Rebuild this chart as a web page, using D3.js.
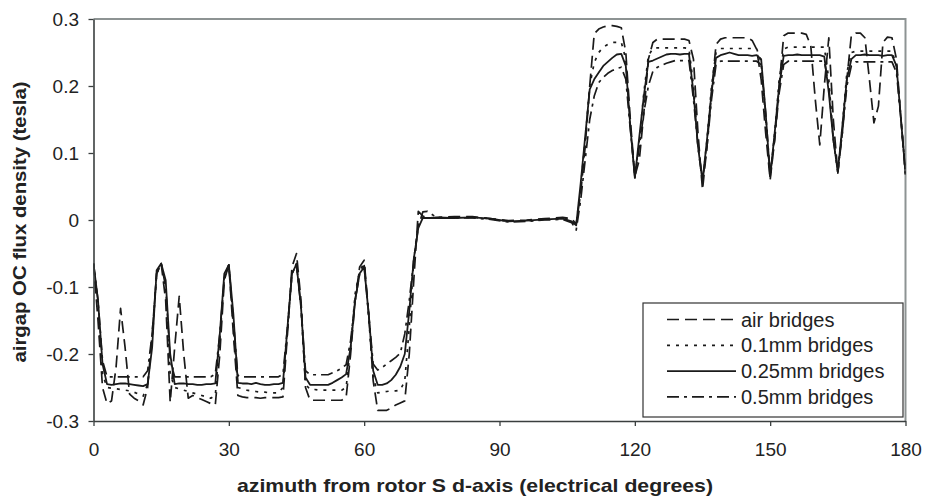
<!DOCTYPE html>
<html>
<head>
<meta charset="utf-8">
<script src="https://cdn.jsdelivr.net/npm/d3@7"></script>
<style>
  body { margin: 0; background: #fff; }
  svg { display: block; font-family: "Liberation Sans", Arial, sans-serif; }
</style>
</head>
<body>
<svg id="drawing_region"></svg>
<script>
// azimuth grid (electrical degrees), shared by all series
const azimuth = [
  0,1,2,3,4,5,6,7,8,9, 10,11,12,13,14,15,16,17,18,19,
  20,21,22,23,24,25,26,27,28,29, 30,31,32,33,34,35,36,37,38,39,
  40,41,42,43,44,45,46,47,48,49, 50,51,52,53,54,55,56,57,58,59,
  60,61,62,63,64,65,66,67,68,69, 70,71,72,73,74,
  76,80,84,88,92,96,100,104,106,
  107,108,109,
  110,111,112,113,114,115,116,117,118,119, 120,121,122,123,124,125,126,127,128,129,
  130,131,132,133,134,135,136,137,138,139, 140,141,142,143,144,145,146,147,148,149,
  150,151,152,153,154,155,156,157,158,159, 160,161,162,163,164,165,166,167,168,169,
  170,171,172,173,174,175,176,177,178,179, 180
];

// air bridges (long dash)
const airBridges = [
  -0.065,-0.15,-0.25,-0.274,-0.27,-0.22,-0.132,-0.19,-0.26,-0.266,
  -0.27,-0.276,-0.25,-0.17,-0.08,-0.065,-0.12,-0.272,-0.19,-0.114,
  -0.2,-0.266,-0.262,-0.265,-0.268,-0.271,-0.274,-0.276,-0.2,-0.09,
  -0.067,-0.17,-0.262,-0.264,-0.265,-0.265,-0.265,-0.266,-0.265,-0.265,
  -0.265,-0.265,-0.264,-0.17,-0.07,-0.05,-0.12,-0.25,-0.269,-0.269,
  -0.269,-0.269,-0.269,-0.269,-0.269,-0.269,-0.265,-0.2,-0.12,-0.07,
  -0.06,-0.14,-0.24,-0.284,-0.284,-0.284,-0.281,-0.276,-0.273,-0.27,
  -0.2,-0.09,0.013,0.006,0.003,
  0.004,0.005,0.005,0.002,-0.001,0.0,0.002,0.004,0.002,
  -0.006,0.04,0.11,
  0.2,0.278,0.285,0.288,0.29,0.29,0.289,0.287,0.25,0.15,
  0.065,0.09,0.16,0.24,0.265,0.27,0.27,0.27,0.27,0.27,
  0.27,0.27,0.268,0.24,0.13,0.045,0.11,0.19,0.262,0.27,
  0.272,0.272,0.272,0.272,0.272,0.272,0.268,0.255,0.21,0.13,
  0.06,0.12,0.2,0.275,0.279,0.279,0.279,0.279,0.277,0.26,
  0.18,0.112,0.2,0.272,0.15,0.07,0.13,0.21,0.276,0.279,
  0.279,0.272,0.21,0.145,0.17,0.265,0.273,0.272,0.24,0.15,
  0.068
];

// 0.1mm bridges (dotted)
const bridges01 = [
  -0.065,-0.13,-0.23,-0.25,-0.251,-0.252,-0.253,-0.254,-0.255,-0.257,
  -0.26,-0.263,-0.245,-0.18,-0.08,-0.065,-0.1,-0.23,-0.25,-0.252,
  -0.254,-0.256,-0.258,-0.26,-0.262,-0.264,-0.266,-0.262,-0.18,-0.085,
  -0.067,-0.16,-0.25,-0.252,-0.254,-0.255,-0.256,-0.257,-0.257,-0.258,
  -0.258,-0.258,-0.25,-0.165,-0.08,-0.065,-0.13,-0.245,-0.253,-0.253,
  -0.254,-0.254,-0.254,-0.254,-0.254,-0.254,-0.25,-0.19,-0.11,-0.075,
  -0.065,-0.145,-0.235,-0.258,-0.257,-0.256,-0.255,-0.255,-0.254,-0.24,
  -0.16,-0.06,-0.005,0.004,0.003,
  0.003,0.004,0.004,0.002,-0.002,-0.001,0.001,0.003,-0.001,
  -0.008,0.05,0.12,
  0.2,0.235,0.25,0.258,0.262,0.265,0.265,0.265,0.24,0.14,
  0.063,0.12,0.19,0.245,0.256,0.257,0.257,0.257,0.257,0.257,
  0.257,0.257,0.256,0.2,0.11,0.055,0.12,0.2,0.25,0.256,
  0.256,0.256,0.256,0.256,0.256,0.256,0.256,0.256,0.235,0.15,
  0.063,0.13,0.21,0.255,0.258,0.258,0.258,0.258,0.258,0.258,
  0.258,0.258,0.258,0.21,0.12,0.07,0.14,0.22,0.25,0.252,
  0.252,0.252,0.252,0.252,0.252,0.252,0.252,0.252,0.23,0.15,
  0.068
];

// 0.25mm bridges (solid)
const bridges025 = [
  -0.065,-0.12,-0.215,-0.245,-0.246,-0.245,-0.244,-0.244,-0.245,-0.246,
  -0.247,-0.248,-0.245,-0.19,-0.075,-0.065,-0.09,-0.2,-0.245,-0.244,
  -0.244,-0.245,-0.245,-0.246,-0.246,-0.245,-0.245,-0.244,-0.17,-0.08,
  -0.067,-0.14,-0.243,-0.244,-0.244,-0.245,-0.243,-0.245,-0.246,-0.246,
  -0.245,-0.245,-0.243,-0.16,-0.08,-0.066,-0.13,-0.235,-0.246,-0.246,
  -0.246,-0.246,-0.246,-0.243,-0.239,-0.235,-0.23,-0.19,-0.12,-0.08,
  -0.07,-0.14,-0.225,-0.246,-0.246,-0.244,-0.239,-0.231,-0.219,-0.2,
  -0.136,-0.058,-0.012,0.003,0.003,
  0.003,0.003,0.004,0.002,-0.002,-0.001,0.001,0.002,-0.002,
  -0.008,0.055,0.125,
  0.195,0.21,0.22,0.23,0.236,0.242,0.247,0.248,0.23,0.14,
  0.063,0.125,0.185,0.236,0.238,0.241,0.244,0.247,0.248,0.248,
  0.247,0.248,0.248,0.19,0.11,0.058,0.12,0.19,0.242,0.246,
  0.248,0.25,0.248,0.246,0.246,0.246,0.245,0.246,0.24,0.16,
  0.065,0.13,0.2,0.245,0.246,0.246,0.247,0.246,0.246,0.246,
  0.246,0.246,0.244,0.19,0.12,0.072,0.14,0.21,0.24,0.246,
  0.246,0.247,0.246,0.246,0.246,0.245,0.246,0.246,0.23,0.15,
  0.07
];

// 0.5mm bridges (dash-dot)
const bridges05 = [
  -0.065,-0.12,-0.21,-0.234,-0.234,-0.234,-0.234,-0.234,-0.234,-0.234,
  -0.234,-0.234,-0.225,-0.17,-0.08,-0.065,-0.1,-0.21,-0.234,-0.234,
  -0.234,-0.234,-0.234,-0.234,-0.234,-0.234,-0.234,-0.23,-0.17,-0.085,
  -0.067,-0.15,-0.232,-0.234,-0.234,-0.234,-0.234,-0.234,-0.234,-0.234,
  -0.234,-0.234,-0.23,-0.16,-0.08,-0.066,-0.13,-0.225,-0.231,-0.231,
  -0.231,-0.231,-0.231,-0.228,-0.225,-0.221,-0.216,-0.18,-0.12,-0.08,
  -0.068,-0.14,-0.215,-0.224,-0.22,-0.215,-0.21,-0.205,-0.199,-0.17,
  -0.12,-0.06,-0.01,0.012,0.013,
  0.004,0.003,0.003,0.001,-0.003,-0.002,0.0,0.001,-0.004,
  -0.015,0.03,0.09,
  0.15,0.185,0.205,0.213,0.219,0.223,0.226,0.228,0.21,0.135,
  0.065,0.11,0.16,0.2,0.222,0.228,0.231,0.234,0.236,0.238,
  0.238,0.238,0.238,0.18,0.11,0.06,0.11,0.18,0.232,0.237,
  0.237,0.237,0.237,0.237,0.237,0.237,0.237,0.237,0.232,0.16,
  0.068,0.12,0.19,0.232,0.237,0.237,0.237,0.237,0.237,0.237,
  0.237,0.237,0.237,0.2,0.12,0.075,0.13,0.2,0.23,0.236,
  0.236,0.236,0.236,0.236,0.236,0.236,0.236,0.236,0.22,0.15,
  0.07
];

const seriesNames = ['air bridges', '0.1mm bridges', '0.25mm bridges', '0.5mm bridges'];
const xTicks = [0, 30, 60, 90, 120, 150, 180];
const yTicks = [0.3, 0.2, 0.1, 0, -0.1, -0.2, -0.3];
const yTickLabels = ['0.3', '0.2', '0.1', '0', '-0.1', '-0.2', '-0.3'];

class LineChart {

    constructor( config, series ) {
        this.config = config;
        this.series = series;
        this.init();
    }

    init() {
        let self = this;

        self.svg = d3.select( self.config.parent )
            .attr('width', self.config.width)
            .attr('height', self.config.height);

        self.inner_width = self.config.width - self.config.margin.left - self.config.margin.right;
        self.inner_height = self.config.height - self.config.margin.top - self.config.margin.bottom;

        self.chart = self.svg.append('g')
            .attr('transform', `translate(${self.config.margin.left}, ${self.config.margin.top})`);

        self.xscale = d3.scaleLinear()
            .domain([0, 180])
            .range([0, self.inner_width]);

        self.yscale = d3.scaleLinear()
            .domain([-0.3, 0.3])
            .range([self.inner_height, 0]);

        self.xaxis = d3.axisBottom( self.xscale )
            .tickValues( xTicks )
            .tickSize(5)
            .tickSizeOuter(0)
            .tickPadding(17);

        self.yaxis = d3.axisLeft( self.yscale )
            .tickValues( yTicks )
            .tickFormat( (d, i) => yTickLabels[i] )
            .tickSize(5)
            .tickSizeOuter(0)
            .tickPadding(9.5);
    }

    render() {
        let self = this;

        // plot frame (top and right in grey)
        self.chart.append('path')
            .attr('d', `M0,0 H${self.inner_width} V${self.inner_height}`)
            .attr('fill', 'none')
            .attr('stroke', '#8d9393')
            .attr('stroke-width', 2);

        self.chart.append('clipPath')
            .attr('id', 'plot-clip')
            .append('rect')
            .attr('x', 0).attr('y', -2)
            .attr('width', self.inner_width)
            .attr('height', self.inner_height + 4);

        const line = d3.line()
            .x( (d, i) => self.xscale(azimuth[i]) )
            .y( d => self.yscale(d) );

        self.chart.append('g')
            .attr('clip-path', 'url(#plot-clip)')
            .selectAll('path')
            .data(self.series)
            .join('path')
            .attr('d', d => line(d.values))
            .attr('fill', 'none')
            .attr('stroke', '#1a1a1a')
            .attr('stroke-width', d => d.width)
            .attr('stroke-dasharray', d => d.dash)
            .attr('stroke-linejoin', 'round');

        // axes
        const xg = self.chart.append('g')
            .attr('transform', `translate(0, ${self.inner_height})`)
            .call( self.xaxis );
        const yg = self.chart.append('g')
            .call( self.yaxis );

        [xg, yg].forEach( g => {
            g.select('.domain').attr('stroke', '#3a3f3f').attr('stroke-width', 1.6);
            g.selectAll('.tick line').attr('stroke', '#3a3f3f').attr('stroke-width', 1.3);
            g.selectAll('.tick text')
                .attr('font-size', 19)
                .attr('fill', '#222')
                .attr('font-family', '"Liberation Sans", Arial, sans-serif');
        });

        // axis titles
        self.svg.append('text')
            .attr('x', 475)
            .attr('y', 492)
            .attr('text-anchor', 'middle')
            .attr('font-size', 19)
            .attr('font-weight', 'bold')
            .attr('fill', '#222')
            .attr('textLength', 476)
            .attr('lengthAdjust', 'spacingAndGlyphs')
            .text('azimuth from rotor S d-axis (electrical degrees)');

        self.svg.append('text')
            .attr('transform', 'translate(26, 222) rotate(-90)')
            .attr('text-anchor', 'middle')
            .attr('font-size', 19)
            .attr('font-weight', 'bold')
            .attr('fill', '#222')
            .attr('textLength', 281)
            .attr('lengthAdjust', 'spacingAndGlyphs')
            .text('airgap OC flux density (tesla)');

        // legend
        const legend = self.svg.append('g')
            .attr('transform', 'translate(643, 303)');

        legend.append('rect')
            .attr('width', 260)
            .attr('height', 114)
            .attr('fill', '#fff')
            .attr('stroke', '#333')
            .attr('stroke-width', 1.2);

        const items = legend.selectAll('g.item')
            .data(self.series)
            .join('g')
            .attr('class', 'item')
            .attr('transform', (d, i) => `translate(0, ${16.5 + i * 25.8})`);

        items.append('line')
            .attr('x1', 24).attr('x2', 93)
            .attr('stroke', '#1a1a1a')
            .attr('stroke-width', d => d.width)
            .attr('stroke-dasharray', d => d.dash);

        items.append('text')
            .attr('x', 98)
            .attr('y', 7)
            .attr('font-size', 20)
            .attr('fill', '#222')
            .text(d => d.name);
    }
}

const config = {
    parent: '#drawing_region',
    width: 925,
    height: 500,
    margin: {top:19, right:19.5, bottom:79, left:93.5}
};

const series = [
    {name: seriesNames[0], values: airBridges, dash: '12,6', width: 1.7},
    {name: seriesNames[1], values: bridges01, dash: '3,6', width: 1.7},
    {name: seriesNames[2], values: bridges025, dash: null, width: 1.8},
    {name: seriesNames[3], values: bridges05, dash: '12,5,3,5', width: 1.7}
];

const line_chart = new LineChart( config, series );
line_chart.render();
</script>
</body>
</html>
